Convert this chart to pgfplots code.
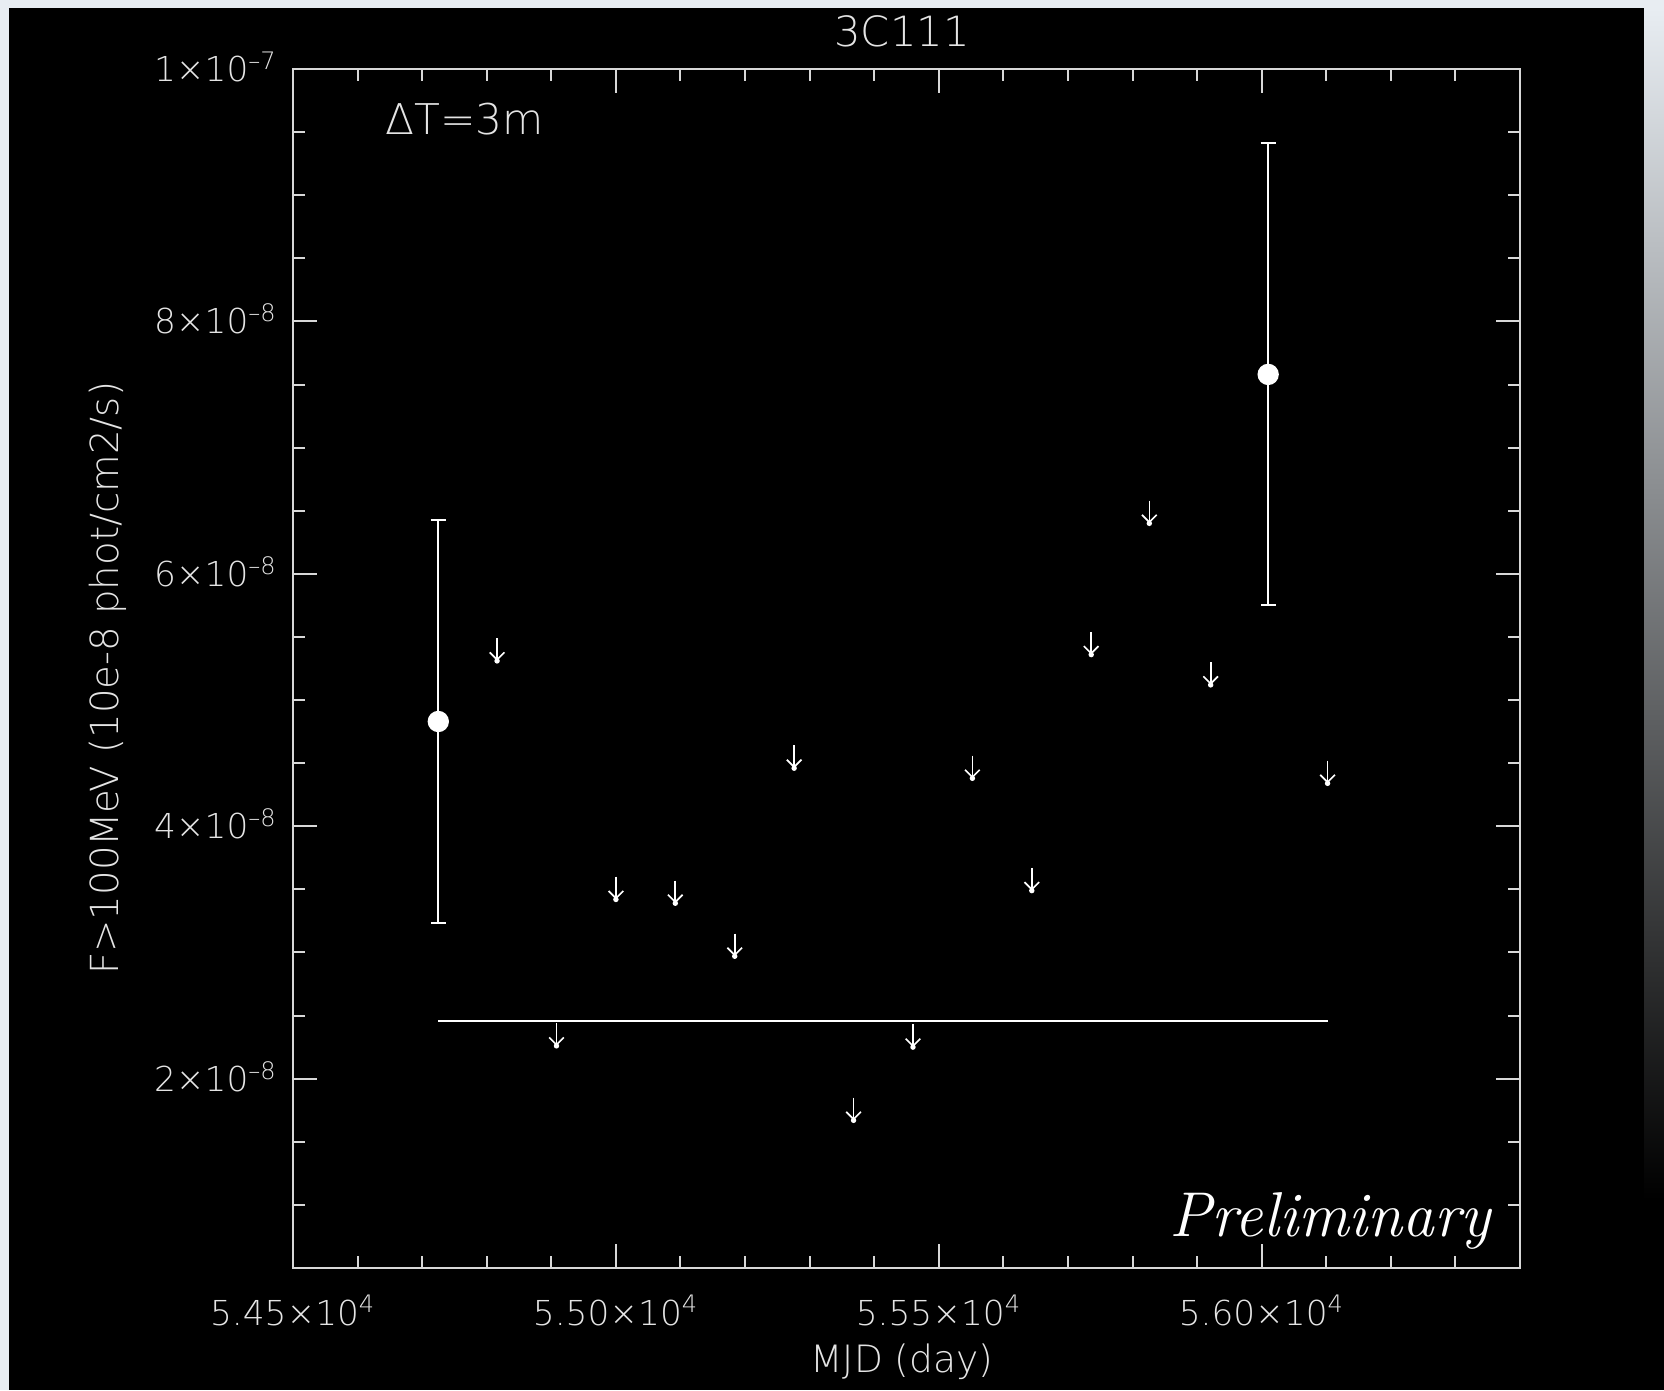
\documentclass[border=0pt]{standalone}
\usepackage{pgfplots}
\usepackage{pgfplotstable}
\pgfplotsset{compat=1.18}
\usepackage{fontspec}
\usetikzlibrary{arrows.meta}
\newfontfamily\hfont{DejaVu Sans ExtraLight}
\definecolor{framec}{RGB}{232,237,242}
\definecolor{axc}{RGB}{215,215,215}
\definecolor{txt}{RGB}{228,228,228}

\pgfplotstableread{
x y e
54725 4.83e-8 1.595e-8
56010 7.58e-8 1.83e-8
}\detections

\pgfplotstableread{
x y
54816 5.49e-8
54908 2.44e-8
55000 3.60e-8
55092 3.57e-8
55184 3.15e-8
55276 4.64e-8
55368 1.85e-8
55460 2.43e-8
55552 4.56e-8
55644 3.67e-8
55736 5.54e-8
55826 6.58e-8
55921 5.30e-8
56102 4.52e-8
}\upperlimits

\begin{document}
\begin{tikzpicture}[x=1pt,y=1pt]
\useasboundingbox (0,0) rectangle (499.2,417);
\fill[black] (0,0) rectangle (499.2,417);
\fill[framec] (0,414.6) rectangle (499.2,417);
\fill[framec] (0,0) rectangle (2.7,417);
\shade[top color=framec, bottom color=black] (493.2,57) rectangle (499.2,414.6);

\begin{axis}[
  at={(87.9pt,36.6pt)}, anchor=south west, scale only axis,
  width=368.1pt, height=359.7pt,
  xmin=54500, xmax=56400, ymin=5e-9, ymax=1e-7,
  scaled x ticks=false, scaled y ticks=false,
  axis line style={axc, line width=0.6pt},
  every tick/.style={axc, line width=0.6pt},
  major tick length=7.2pt, minor tick length=3.6pt,
  tick align=inside, tick pos=both,
  xticklabel pos=lower, yticklabel pos=left,
  xtick={54500,55000,55500,56000},
  xticklabels={5.45×10\textsuperscript{4},5.50×10\textsuperscript{4},5.55×10\textsuperscript{4},5.60×10\textsuperscript{4}},
  minor xtick={54600,54700,54800,54900,55100,55200,55300,55400,55600,55700,55800,55900,56100,56200,56300},
  ytick={2e-8,4e-8,6e-8,8e-8,1e-7},
  yticklabels={2×10\textsuperscript{–8},4×10\textsuperscript{–8},6×10\textsuperscript{–8},8×10\textsuperscript{–8},1×10\textsuperscript{–7}},
  minor ytick={1e-8,1.5e-8,2.5e-8,3e-8,3.5e-8,4.5e-8,5e-8,5.5e-8,6.5e-8,7e-8,7.5e-8,8.5e-8,9e-8,9.5e-8},
  xticklabel style={font=\hfont\fontsize{10.3}{12}\selectfont, text=txt, anchor=base, inner sep=0pt, yshift=-17.1pt},
  yticklabel style={font=\hfont\fontsize{10.3}{12}\selectfont, text=txt, anchor=base east, inner sep=0pt, xshift=-4.5pt, yshift=-3.75pt},
  clip=false,
]
\addplot[white, line width=0.6pt] coordinates {(54725,2.46e-8) (56102,2.46e-8)};
\addplot[white, only marks, mark=*, mark size=3pt,
  error bars/.cd, y dir=both, y explicit,
  error bar style={white, line width=0.6pt},
  error mark options={white, rotate=90, mark size=2.3pt, line width=0.6pt}]
  table[x=x, y=y, y error=e] {\detections};
\addplot[white, line width=0.5pt, -{Straight Barb[length=2.2pt,width=4.4pt]},
  quiver={u=0, v=-1.8e-9}] table[x=x, y=y] {\upperlimits};
\addplot[white, only marks, mark=*, mark size=0.6pt]
  table[x=x, y expr=\thisrow{y}-1.8e-9] {\upperlimits};
\end{axis}

\node[font=\hfont\fontsize{12.5}{14}\selectfont, text=txt, anchor=base, inner sep=0pt] at (270.6,402.9) {3C111};
\node[font=\hfont\fontsize{12.7}{14}\selectfont, text=txt, anchor=base west, inner sep=0pt] at (115.5,376.5) {ΔT=3m};
\node[font=\hfont\fontsize{11.3}{13}\selectfont, text=txt, anchor=base, inner sep=0pt] at (270.6,5.4) {MJD (day)};
\node[font=\hfont\fontsize{11.6}{13}\selectfont, text=txt, anchor=base, inner sep=0pt, rotate=90] at (35.4,213.5) {F>100MeV (10e-8 phot/cm2/s)};
\node[font=\fontsize{19}{22}\selectfont\itshape, text=white, anchor=base east, inner sep=0pt] at (447.3,46.2) {Preliminary};
\end{tikzpicture}
\end{document}
